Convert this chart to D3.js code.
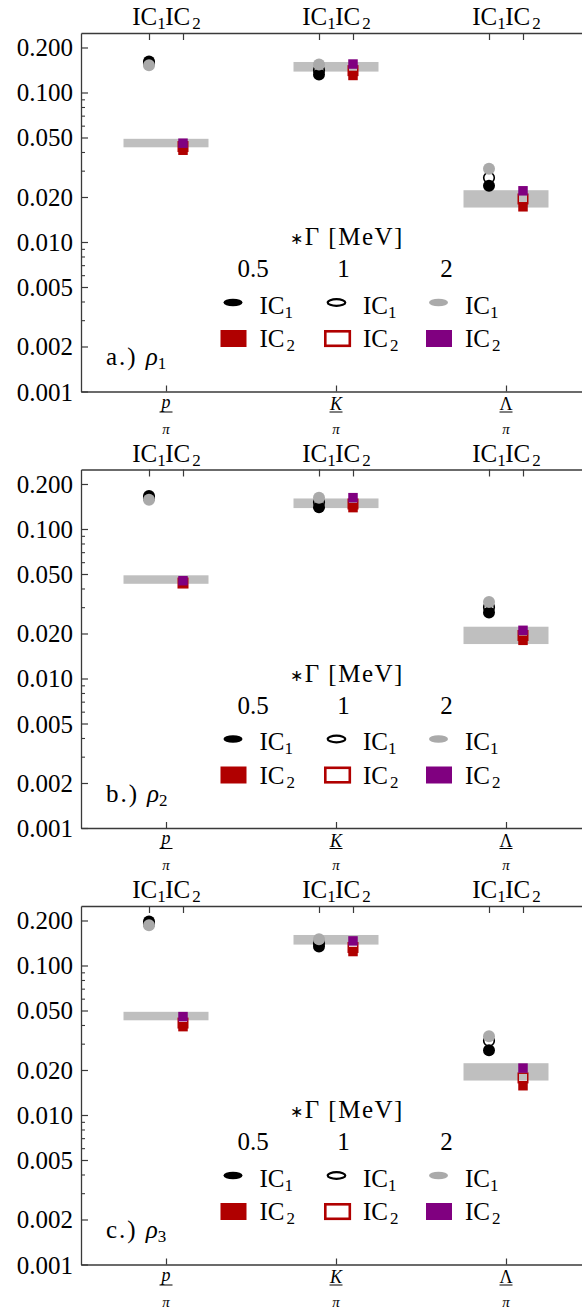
<!DOCTYPE html>
<html><head><meta charset="utf-8">
<script src="https://cdn.jsdelivr.net/npm/d3@7"></script>
<style>
body{margin:0;background:#fff}
svg{display:block}
text{font-family:"Liberation Serif","Times New Roman",serif;fill:#000}
</style>
</head><body><svg id="c" width="582" height="1313"></svg>
<script>
// ---------------- data ----------------
const categories = ["p", "K", "Λ"];          // numerators of ratios X/π
const categoryItalic = [true, true, false];
const icNames = ["1", "2"];                   // IC1, IC2
const widthLabels = ["0.5", "1", "2"];        // Γ [MeV]
const panelLetters = ["a", "b", "c"];
const panelSubs = ["1", "2", "3"];
// experimental bands (low, high) per category
const bandLow  = [0.043, 0.138, 0.0170];
const bandHigh = [0.049, 0.160, 0.0222];
// values [category][Γ index]
const rho1IC1 = [[0.161, 0.157, 0.152], [0.132, 0.141, 0.154], [0.0238, 0.0269, 0.0309]];
const rho1IC2 = [[0.0411, 0.0435, 0.0458], [0.130, 0.140, 0.155], [0.0172, 0.0194, 0.0220]];
const rho2IC1 = [[0.166, 0.161, 0.157], [0.140, 0.151, 0.162], [0.0276, 0.0300, 0.0325]];
const rho2IC2 = [[0.0438, 0.0435, 0.0451], [0.139, 0.147, 0.162], [0.0180, 0.0194, 0.0210]];
const rho3IC1 = [[0.197, 0.190, 0.186], [0.134, 0.141, 0.150], [0.0271, 0.0314, 0.0336]];
const rho3IC2 = [[0.0390, 0.0412, 0.0455], [0.124, 0.132, 0.146], [0.0157, 0.0177, 0.0206]];
const panelIC1 = [rho1IC1, rho2IC1, rho3IC1];
const panelIC2 = [rho1IC2, rho2IC2, rho3IC2];
const yTicks = [0.001, 0.002, 0.005, 0.01, 0.02, 0.05, 0.1, 0.2];
const yTickLabels = ["0.001", "0.002", "0.005", "0.010", "0.020", "0.050", "0.100", "0.200"];
const yMinor = [0.003, 0.004, 0.006, 0.007, 0.008, 0.009, 0.03, 0.04, 0.06, 0.07, 0.08, 0.09];

// ---------------- styles ----------------
const RED = "#b00000", PURPLE = "#800080", GREYPT = "#aaaaaa", BAND = "#bfbfbf", AX = "#3a3a3a";
const FS = 25;

const svg = d3.select("#c");
const tops = [33, 469.5, 906];
const H = 358.5;
const x = d3.scaleLinear().domain([0.5, 3.5]).range([81, 591]);
const y = d3.scaleLog().domain([0.001, 0.25]).range([H, 0]);
const icOff = 0.1, halfBand = 0.25;

function icText(sel, xx, yy, sub, anchor) {
  const t = sel.append("text").attr("x", xx).attr("y", yy).attr("text-anchor", anchor).attr("font-size", FS);
  t.append("tspan").text("IC");
  t.append("tspan").attr("font-size", FS * 0.68).attr("dy", 4).attr("dx", sub === "2" ? 2 : 0).text(sub);
  return t;
}

function circleStyle(s, w) {
  if (w === 0) s.attr("fill", "#000");
  else if (w === 1) s.attr("fill", "none").attr("stroke", "#000").attr("stroke-width", 1.6);
  else s.attr("fill", GREYPT);
}
function squareStyle(s, w) {
  if (w === 0) s.attr("fill", RED);
  else if (w === 1) s.attr("fill", "none").attr("stroke", RED).attr("stroke-width", 1.5);
  else s.attr("fill", PURPLE);
}

panelLetters.forEach((letter, pi) => {
  const g = svg.append("g").attr("transform", `translate(0,${tops[pi]})`);

  // bands
  g.selectAll("rect.band").data(categories).join("rect").attr("class", "band")
    .attr("x", (d, i) => x(i + 1 - halfBand))
    .attr("width", (d, i) => x(i + 1 + halfBand) - x(i + 1 - halfBand))
    .attr("y", (d, i) => y(bandHigh[i]))
    .attr("height", (d, i) => y(bandLow[i]) - y(bandHigh[i]))
    .attr("fill", BAND);

  // left axis
  const la = g.append("g").attr("transform", "translate(81,0)")
    .call(d3.axisLeft(y).tickValues(yTicks).tickFormat((d, i) => yTickLabels[i]).tickSizeInner(-7).tickSizeOuter(0).tickPadding(8));
  la.attr("font-family", null);
  la.selectAll("text").attr("font-size", FS).attr("font-family", "Liberation Serif").attr("fill", "#000").attr("dy", "0.34em");
  la.selectAll("line").attr("stroke", AX).attr("stroke-width", 1.2);
  la.select(".domain").attr("stroke", AX).attr("stroke-width", 1.3);
  const lm = g.append("g").attr("transform", "translate(81,0)")
    .call(d3.axisLeft(y).tickValues(yMinor).tickFormat("").tickSizeInner(-4).tickSizeOuter(0));
  lm.selectAll("line").attr("stroke", AX).attr("stroke-width", 1.1);
  lm.select(".domain").remove();

  // top axis
  const topVals = [];
  categories.forEach((c, i) => { topVals.push(i + 1 - icOff, i + 1 + icOff); });
  const ta = g.append("g").call(d3.axisTop(x).tickValues(topVals).tickFormat("").tickSizeInner(-7).tickSizeOuter(0));
  ta.selectAll("line").attr("stroke", AX).attr("stroke-width", 1.2);
  ta.select(".domain").attr("stroke", AX).attr("stroke-width", 1.3);
  topVals.forEach((v, k) => icText(g, x(v), -8, icNames[k % 2], "middle"));

  // bottom axis
  const ba = g.append("g").attr("transform", `translate(0,${H})`)
    .call(d3.axisBottom(x).tickValues(categories.map((c, i) => i + 1)).tickFormat("").tickSizeInner(-6).tickSizeOuter(0));
  ba.selectAll("line").attr("stroke", AX).attr("stroke-width", 1.2);
  ba.select(".domain").attr("stroke", AX).attr("stroke-width", 1.3);
  categories.forEach((c, i) => {
    const cx = x(i + 1);
    g.append("text").attr("x", cx).attr("y", H + (c === "p" ? 16 : 18.5)).attr("text-anchor", "middle")
      .attr("font-size", 18).attr("font-style", categoryItalic[i] ? "italic" : "normal").text(c);
    g.append("line").attr("x1", cx - 6.5).attr("x2", cx + 6.5).attr("y1", H + 20.5).attr("y2", H + 20.5)
      .attr("stroke", "#000").attr("stroke-width", 1);
    g.append("text").attr("x", cx).attr("y", H + 42).attr("text-anchor", "middle")
      .attr("font-size", 15).attr("font-style", "italic").text("π");
  });

  // points
  const ic1 = panelIC1[pi], ic2 = panelIC2[pi];
  widthLabels.forEach((wl, w) => {
    g.selectAll(null).data(categories).join("rect")
      .attr("x", (d, i) => x(i + 1 + icOff) - 4.75).attr("width", 9.5)
      .attr("y", (d, i) => y(ic2[i][w]) - 4.75).attr("height", 9.5)
      .call(squareStyle, w);
    g.selectAll(null).data(categories).join("circle")
      .attr("cx", (d, i) => x(i + 1 - icOff)).attr("cy", (d, i) => y(ic1[i][w]))
      .attr("r", w === 1 ? 5.3 : 6)
      .call(circleStyle, w);
  });

  // legend
  const lg = g.append("g");
  const tt = lg.append("text").attr("x", 347).attr("y", 212).attr("text-anchor", "middle").attr("font-size", FS)
    .attr("letter-spacing", 1.5);
  tt.append("tspan").attr("font-size", 16).attr("dy", -1).text("∗");
  tt.append("tspan").attr("dy", 1).text("Γ [MeV]");
  const colX = [233, 336.5, 438.5];
  widthLabels.forEach((wl, w) => {
    lg.append("text").attr("x", colX[w] + [20, 7, 8][w]).attr("y", 244).attr("text-anchor", "middle").attr("font-size", FS).text(wl);
    const e = lg.append("ellipse").attr("cx", colX[w]).attr("cy", 269.5).attr("rx", w === 1 ? 8.8 : 9.5).attr("ry", w === 1 ? 3.3 : 3.8);
    circleStyle(e, w);
    if (w === 1) e.attr("stroke-width", 2.2);
    icText(lg, colX[w] + 26.5, 280.5, "1", "start");
    const r = lg.append("rect").attr("x", colX[w] - 12.5 + (w === 1 ? 1.3 : 0)).attr("y", 297 + (w === 1 ? 1.3 : 0))
      .attr("width", w === 1 ? 24.5 : 26).attr("height", w === 1 ? 14.5 : 17);
    squareStyle(r, w);
    if (w === 1) r.attr("stroke-width", 2.6);
    icText(lg, colX[w] + 26.5, 314, "2", "start");
  });

  // panel label
  const pl = g.append("text").attr("x", 106).attr("y", 332).attr("font-size", FS);
  pl.append("tspan").attr("letter-spacing", 2).text(letter + ".)");
  pl.append("tspan").attr("dx", 8).attr("font-style", "italic").text("ρ");
  pl.append("tspan").attr("font-size", FS * 0.68).attr("dy", 4).text(panelSubs[pi]);
});
</script>
</body></html>
